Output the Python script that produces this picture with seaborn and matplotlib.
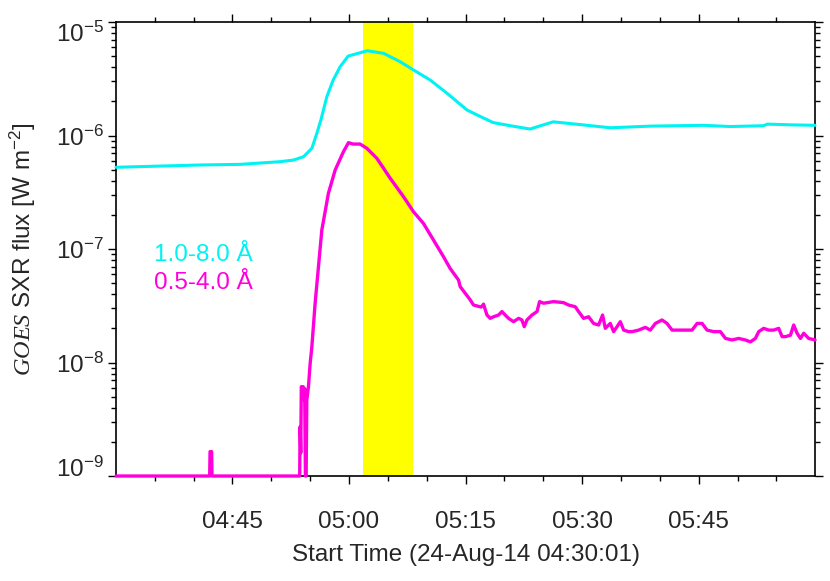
import numpy as np
import pandas as pd
import matplotlib
matplotlib.use("Agg")
import matplotlib.pyplot as plt
import matplotlib.dates as mdates
from matplotlib.ticker import FixedLocator, LogLocator, NullFormatter, LogFormatterSciNotation
from matplotlib.transforms import ScaledTranslation
import seaborn as sns

# ---------------- data (minutes after 04:30:01, flux in W m^-2) ----------------
start_time = "2014-08-24 04:30:01"
end_time = "2014-08-24 05:59:58"

long_t = [0.0, 10.82, 15.97, 21.11, 22.83, 24.12, 25.20, 25.84, 26.36, 27.13, 27.94,
          28.84, 29.87, 32.32, 34.42, 36.56, 38.28, 40.43, 42.58, 45.15, 46.87, 48.54,
          50.73, 53.30, 53.95, 56.26, 60.13, 63.60, 68.75, 75.58, 79.05, 83.30, 83.82,
          87.16, 89.95]
long_flux = [5.25e-7, 5.50e-7, 5.57e-7, 5.88e-7, 6.08e-7, 6.50e-7, 7.71e-7, 1.045e-6,
             1.37e-6, 2.20e-6, 3.08e-6, 4.04e-6, 5.01e-6, 5.58e-6, 5.30e-6, 4.47e-6,
             3.78e-6, 3.08e-6, 2.36e-6, 1.68e-6, 1.47e-6, 1.30e-6, 1.22e-6, 1.14e-6,
             1.18e-6, 1.32e-6, 1.24e-6, 1.17e-6, 1.21e-6, 1.23e-6, 1.20e-6, 1.22e-6,
             1.26e-6, 1.24e-6, 1.23e-6]

short_t = [0.0, 12.05, 12.10, 12.30, 12.35, 23.63, 23.69, 23.77, 23.84, 24.08, 24.18,
           24.27, 24.37, 24.46, 24.55, 24.76, 24.98, 25.20, 25.62, 26.48, 27.33, 28.20,
           29.26, 29.91, 30.51, 31.41, 32.28, 33.56, 35.28, 36.99, 38.28, 39.56, 40.85,
           42.14, 43.00, 44.07, 44.29, 45.58, 46.00, 46.99, 47.29, 47.73, 48.15, 48.58,
           49.22, 49.66, 50.08, 50.51, 51.15, 51.80, 52.23, 52.53, 52.88, 53.52, 54.17,
           54.50, 55.02, 56.30, 57.59, 58.23, 59.10, 59.52, 60.16, 60.81, 61.45, 62.10,
           62.61, 62.96, 63.60, 64.03, 64.47, 64.89, 65.32, 65.96, 66.40, 67.25, 68.11,
           68.75, 69.40, 70.26, 70.90, 71.55, 72.83, 74.12, 74.77, 75.41, 76.05, 76.91,
           77.77, 78.42, 79.27, 80.12, 80.98, 81.63, 82.27, 82.70, 83.34, 83.99, 84.63,
           85.27, 85.71, 86.14, 86.78, 87.20, 87.64, 88.07, 88.49, 89.13, 89.95]
short_flux = [1.0e-9, 1.0e-9, 1.64e-9, 1.64e-9, 1.0e-9, 1.0e-9, 2.72e-9, 1.60e-9, 6.12e-9,
              6.12e-9, 4.68e-9, 5.90e-9, 1.0e-9, 1.0e-9, 4.68e-9, 6.12e-9, 9.84e-9, 1.38e-8,
              3.34e-8, 1.47e-7, 3.10e-7, 4.97e-7, 7.19e-7, 8.65e-7, 8.41e-7, 8.41e-7,
              7.71e-7, 6.30e-7, 4.20e-7, 2.89e-7, 2.13e-7, 1.68e-7, 1.20e-7, 8.55e-8,
              6.73e-8, 5.33e-8, 4.66e-8, 3.56e-8, 3.21e-8, 3.08e-8, 3.27e-8, 2.62e-8,
              2.45e-8, 2.53e-8, 2.62e-8, 2.81e-8, 2.62e-8, 2.45e-8, 2.29e-8, 2.45e-8,
              2.37e-8, 2.07e-8, 2.37e-8, 2.62e-8, 2.81e-8, 3.44e-8, 3.33e-8, 3.44e-8,
              3.37e-8, 3.21e-8, 3.10e-8, 2.81e-8, 2.45e-8, 2.53e-8, 2.21e-8, 2.14e-8,
              2.62e-8, 2.00e-8, 2.21e-8, 1.87e-8, 2.07e-8, 2.29e-8, 1.93e-8, 1.87e-8,
              1.87e-8, 1.93e-8, 2.04e-8, 1.93e-8, 2.21e-8, 2.37e-8, 2.21e-8, 1.93e-8,
              1.93e-8, 1.93e-8, 2.21e-8, 2.21e-8, 1.93e-8, 1.87e-8, 1.87e-8, 1.63e-8,
              1.58e-8, 1.63e-8, 1.58e-8, 1.52e-8, 1.63e-8, 1.87e-8, 2.00e-8, 1.93e-8,
              1.93e-8, 2.00e-8, 1.69e-8, 1.69e-8, 1.74e-8, 2.14e-8, 1.81e-8, 1.63e-8,
              1.81e-8, 1.63e-8, 1.58e-8]

band_start = "2014-08-24 05:01:46"
band_end = "2014-08-24 05:08:16"

y_ticks = [1e-9, 1e-8, 1e-7, 1e-6, 1e-5]
channel_labels = ["1.0-8.0 Å", "0.5-4.0 Å"]
channel_colors = ["#00F2F2", "#FF00DC"]
xlabel = "Start Time (24-Aug-14 04:30:01)"

# ---------------- style ----------------
sns.set_style("ticks")
plt.rcParams["font.family"] = ["Liberation Sans", "DejaVu Sans"]
plt.rcParams["mathtext.fontset"] = "custom"
plt.rcParams["mathtext.rm"] = "Liberation Sans"
plt.rcParams["mathtext.it"] = "Liberation Serif:italic"
plt.rcParams["mathtext.default"] = "regular"
FS = 17.5

base = pd.Timestamp(start_time)
df_long = pd.DataFrame({"time": base + pd.to_timedelta(long_t, unit="min"), "flux": long_flux})
df_short = pd.DataFrame({"time": base + pd.to_timedelta(short_t, unit="min"), "flux": short_flux})

fig = plt.figure(figsize=(8.3, 5.81), dpi=100)
ax = fig.add_axes([0.1398, 0.1807, 0.8422, 0.7814])

ax.axvspan(pd.Timestamp(band_start), pd.Timestamp(band_end), color="#FFFF00", lw=0, zorder=1)

sns.lineplot(data=df_long, x="time", y="flux", ax=ax, color=channel_colors[0], lw=2.2,
             estimator=None, sort=False, legend=False, zorder=3)
sns.lineplot(data=df_short, x="time", y="flux", ax=ax, color=channel_colors[1], lw=2.4,
             estimator=None, sort=False, legend=False, zorder=3)
for ln in ax.lines:
    ln.set_clip_on(False)

ax.set_yscale("log")
ax.set_ylim(1e-9, 1e-5)
ax.set_xlim(pd.Timestamp(start_time), pd.Timestamp(end_time))

ax.xaxis.set_major_locator(mdates.MinuteLocator(byminute=[0, 15, 30, 45]))
ax.xaxis.set_minor_locator(mdates.MinuteLocator(byminute=list(range(0, 60, 5))))
ax.xaxis.set_major_formatter(mdates.DateFormatter("%H:%M"))
ax.yaxis.set_major_locator(FixedLocator(y_ticks))
ax.yaxis.set_minor_locator(LogLocator(base=10, subs=np.arange(2, 10), numticks=20))
ax.yaxis.set_major_formatter(LogFormatterSciNotation())
ax.yaxis.set_minor_formatter(NullFormatter())
ax.xaxis.get_offset_text().set_visible(False)
ax.yaxis.get_offset_text().set_visible(False)

ax.tick_params(which="both", direction="out", top=True, right=True, width=1.0, color="black")
ax.tick_params(which="major", length=6)
ax.tick_params(which="minor", length=3.5)
ax.tick_params(axis="x", which="major", labelsize=FS, pad=19)
ax.tick_params(axis="y", which="major", labelsize=FS, pad=3)
for sp in ax.spines.values():
    sp.set_linewidth(1.2)
    sp.set_color("black")

# end labels nudged inward, as in the reference
label_shift_px = [9, 0, 0, 0, -10]
for tick, dy in zip(ax.yaxis.get_major_ticks(), label_shift_px):
    tick.label1.set_transform(tick.label1.get_transform()
                              + ScaledTranslation(0, dy / 100, fig.dpi_scale_trans))

ax.set_xlabel(xlabel, fontsize=FS, labelpad=8)
ax.set_ylabel(r"$\mathit{GOES}$ SXR flux [W m$^{-2}$]", fontsize=FS)
ax.yaxis.set_label_coords(-0.112, 0.5)

ax.text(0.0544, 0.4736, channel_labels[0], color=channel_colors[0], fontsize=FS,
        transform=ax.transAxes, va="baseline", ha="left")
ax.text(0.0544, 0.4119, channel_labels[1], color=channel_colors[1], fontsize=FS,
        transform=ax.transAxes, va="baseline", ha="left")

fig.savefig("out.png", dpi=100)
